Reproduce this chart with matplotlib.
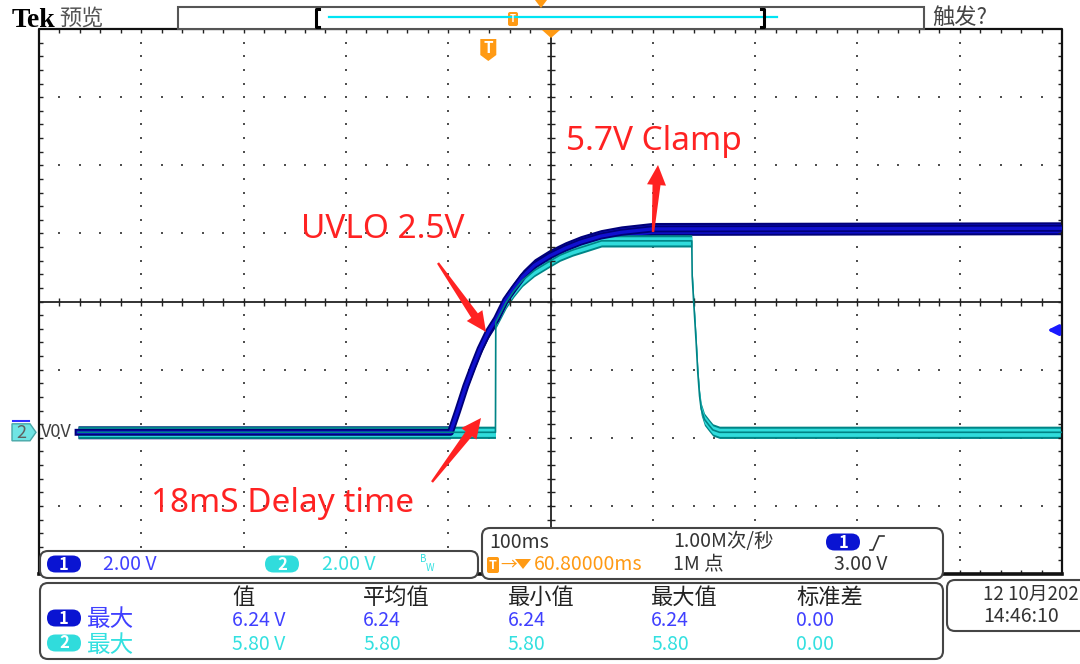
import matplotlib
matplotlib.use("Agg")
import matplotlib.pyplot as plt
from matplotlib.patches import FancyBboxPatch, Polygon, Rectangle
import numpy as np

plt.rcParams['font.family'] = ['Noto Sans CJK SC', 'DejaVu Sans']

# waveforms: time in ms from trigger, volts
ch1_t = [-401, -37, -30, -22, -15, -8, 0, 8, 17, 25, 34, 45, 60, 75, 90, 110, 130, 160, 560.8]
ch1_v = [0.0, 0.0, 0.62, 1.36, 1.92, 2.45, 2.95, 3.33, 3.88, 4.22, 4.58, 4.90, 5.18, 5.40, 5.58, 5.76, 5.87, 5.97, 5.99]

ch2_t = [-401, 7.0, 7.3, 12, 17.5, 25, 33.4, 45, 59.8, 70, 82.3, 95, 110.6, 198.9,
         199.3, 200.6, 201.6, 203.2, 204.8, 206.5, 208.1, 211.3, 216.2, 219.5, 226, 560.8]
ch2_v = [0.0, 0.0, 3.23, 3.50, 3.82, 4.15, 4.46, 4.75, 5.02, 5.20, 5.35, 5.47, 5.62, 5.62,
         4.59, 3.91, 3.42, 2.63, 1.75, 1.07, 0.68, 0.38, 0.19, 0.07, 0.0, 0.0]

# scope settings
volts_per_div = 2.0
ms_per_div = 100.0
trig_pos_ms = 60.8
ground_div = -1.92
trig_level = 3.0

# readouts
ch_scale = ["2.00 V", "2.00 V"]
meas_cols = ["值", "平均值", "最小值", "最大值", "标准差"]
ch1_meas = ["6.24 V", "6.24", "6.24", "6.24", "0.00"]
ch2_meas = ["5.80 V", "5.80", "5.80", "5.80", "0.00"]

BLUE_DK = '#000078'
BLUE = '#1010d0'
CYAN_DK = '#008486'
CYAN = '#30dcdc'
BLUE_TXT = '#4040ff'
CYAN_TXT = '#33e0e0'
ORANGE = '#ff9a14'
RED = '#ff2222'
GRID = '#505050'

W, H = 1080, 664
fig = plt.figure(figsize=(W / 100, H / 100), dpi=100)
fig.patch.set_facecolor('white')

L, T, R, B = 39, 29, 1062, 574
ax = fig.add_axes([L / W, 1 - B / H, (R - L) / W, (B - T) / H])
x0 = trig_pos_ms - 5 * ms_per_div
ax.set_xlim(x0, trig_pos_ms + 5 * ms_per_div)
vc = -ground_div * volts_per_div
ax.set_ylim(vc - 4 * volts_per_div, vc + 4 * volts_per_div)
ax.axis('off')
tr = ax.transAxes

# graticule
ys = np.arange(1, 40) / 40
xs = np.arange(1, 50) / 50
for k in range(1, 10):
    if k != 5:
        ax.scatter(np.full_like(ys, k / 10), ys, s=1.6, marker='s', color=GRID, lw=0, transform=tr)
for k in range(1, 8):
    if k != 4:
        ax.scatter(xs, np.full_like(xs, k / 8), s=1.6, marker='s', color=GRID, lw=0, transform=tr)
ax.plot([0, 1], [0.5, 0.5], color='#222222', lw=1.3, transform=tr)
ax.plot([0.5, 0.5], [0, 1], color='#222222', lw=1.3, transform=tr)
th = 4 / (B - T)
tw = 4 / (R - L)
ax.vlines(xs, 0.5 - th, 0.5 + th, colors='#222222', lw=1.0, transform=tr)
ax.hlines(ys, 0.5 - tw, 0.5 + tw, colors='#222222', lw=1.0, transform=tr)
ax.vlines(xs, 1 - th, 1, colors='#222222', lw=1.0, transform=tr)
ax.vlines(xs, 0, th, colors='#222222', lw=1.0, transform=tr)
ax.hlines(ys, 0, tw, colors='#222222', lw=1.0, transform=tr)
ax.hlines(ys, 1 - tw, 1, colors='#222222', lw=1.0, transform=tr)
ax.plot([0, 0, 1, 1], [0, 1, 1, 0], color='#111111', lw=1.6, transform=tr, clip_on=False)
ax.plot([0, 1], [0, 0], color='#111111', lw=2.6, transform=tr, clip_on=False)

# ch1 trace
v1 = np.array(ch1_v)
ax.plot(ch1_t, ch1_v, color=BLUE_DK, lw=5.0, solid_joinstyle='round')
ax.fill_between(ch1_t, v1 - 0.19, v1 + 0.19, color=BLUE_DK, lw=0)
ax.plot(ch1_t, ch1_v, color=BLUE, lw=2.4)
ax.fill_between(ch1_t, v1 - 0.13, v1 + 0.13, color=BLUE, lw=0)

# ch2 trace
v2 = np.array(ch2_v)
ax.plot(ch2_t, ch2_v, color=CYAN_DK, lw=1.2)
ax.fill_between(ch2_t, v2 - 0.18, v2 + 0.18, color=CYAN_DK, lw=0)
ax.fill_between(ch2_t, v2 - 0.12, v2 + 0.12, color=CYAN, lw=0)

# trigger level marker on right edge
x1 = trig_pos_ms + 5 * ms_per_div
ax.annotate('', xy=(x1 - 17, trig_level), xytext=(x1 - 1, trig_level),
            arrowprops=dict(arrowstyle='-|>', color='#1a1aff', lw=2.2, mutation_scale=16),
            annotation_clip=False)

# overlay in pixel coordinates
ov = fig.add_axes([0, 0, 1, 1])
ov.set_xlim(0, W)
ov.set_ylim(H, 0)
ov.axis('off')

px_per_ms = (R - L) / (10 * ms_per_div)
trig_x = L + (0 - x0) * px_per_ms
gnd_y = (T + B) / 2 - ground_div * (B - T) / 8

# header
ov.text(12, 27, 'Tek', family='Liberation Serif', weight='bold', fontsize=20, color='black', va='baseline')
ov.text(59, 18, '预览', fontsize=16, color='#555555', va='center')
ov.add_patch(Rectangle((178, 7), 746, 22, fc='white', ec='#555555', lw=1.5))
ov.plot([329, 777], [16.5, 16.5], color='#00e4f4', lw=1.6)
for bx, sgn in [(316, 1), (764, -1)]:
    ov.plot([bx + 3 * sgn, bx, bx, bx + 3 * sgn], [9, 9, 27, 27], color='black', lw=2.2)
ov.add_patch(FancyBboxPatch((508, 12), 10, 14, boxstyle='round,pad=0,rounding_size=2', fc=ORANGE, ec='none'))
ov.text(513, 19.5, 'T', color='white', fontsize=7, ha='center', va='center', weight='bold')
ov.add_patch(Polygon([(535, 0), (547, 0), (541, 8)], fc=ORANGE, ec='none'))
ov.text(932, 18, '触发?', fontsize=16, color='#444444', va='center')
ov.add_patch(Polygon([(542, 30), (560, 30), (551, 38)], fc=ORANGE, ec='none'))

# trigger position marker
ov.add_patch(Polygon([(trig_x - 8, 39), (trig_x + 8, 39), (trig_x + 8, 55), (trig_x, 61), (trig_x - 8, 55)],
                     fc=ORANGE, ec='none'))
ov.text(trig_x, 48, 'T', color='white', fontsize=11, ha='center', va='center', weight='bold')

# ground marker ch2
ov.add_patch(Polygon([(12, gnd_y - 8.5), (30, gnd_y - 8.5), (36, gnd_y), (30, gnd_y + 8.5), (12, gnd_y + 8.5)],
                     fc='#70e4e4', ec='#48a8a8', lw=1))
ov.text(21, gnd_y + 0.5, '2', color='#606060', fontsize=13, ha='center', va='center')
ov.plot([13, 29], [gnd_y - 11.5, gnd_y - 11.5], color='#3030ff', lw=1.5)
ov.text(41, gnd_y, 'V0V', color='#404040', fontsize=13, va='center')

# red annotations
def red_arrow(xa, ya, xb, yb, w0=1.2, w1=4.0, hw=9.5, hl=20.0):
    p0 = np.array([xa, ya])
    p1 = np.array([xb, yb])
    u = (p1 - p0) / np.hypot(*(p1 - p0))
    n = np.array([-u[1], u[0]])
    pb = p1 - u * hl
    pts = [p0 + n * w0, pb + n * w1, pb + n * hw, p1, pb - n * hw, pb - n * w1, p0 - n * w0]
    ov.add_patch(Polygon(pts, closed=True, fc=RED, ec='none'))

red_arrow(653, 232, 658, 165)
red_arrow(438, 263, 486, 332)
red_arrow(432, 482, 481, 418)
ann_font = dict(family='Noto Sans', fontsize=24, color=RED, va='baseline')
ov.text(566, 150, '5.7V Clamp', **ann_font)
ov.text(301, 238, 'UVLO 2.5V', **ann_font)
ov.text(151, 512, '18mS Delay time', **ann_font)

# readout boxes
def box(xa, ya, w, h):
    ov.add_patch(FancyBboxPatch((xa, ya), w, h, boxstyle='round,pad=0,rounding_size=8',
                                fc='white', ec='#454545', lw=1.5, clip_on=False))

def pill(xc, yc, label, fc):
    ov.add_patch(FancyBboxPatch((xc - 17, yc - 8.5), 34, 17, boxstyle='round,pad=0,rounding_size=8.5',
                                fc=fc, ec='none'))
    ov.text(xc, yc + 0.5, label, color='white', fontsize=12, ha='center', va='center', weight='bold')

box(40, 551, 438, 27)
box(482, 528, 461, 51)
box(40, 583, 903, 76)
box(947, 580, 150, 51)

pill(64, 564, '1', '#0a14d2')
ov.text(103, 564, ch_scale[0], color=BLUE_TXT, fontsize=14, va='center')
pill(282, 564, '2', CYAN)
ov.text(322, 564, ch_scale[1], color=CYAN_TXT, fontsize=14, va='center')
ov.text(420, 559, 'B', color=CYAN_TXT, fontsize=7, va='center')
ov.text(426, 568, 'W', color=CYAN_TXT, fontsize=7, va='center')

ov.text(489, 542, '100ms', color='#333333', fontsize=14, va='center')
ov.add_patch(FancyBboxPatch((487, 557), 12, 16, boxstyle='round,pad=0,rounding_size=2', fc=ORANGE, ec='none'))
ov.text(493, 565.5, 'T', color='white', fontsize=9, ha='center', va='center', weight='bold')
ov.text(500, 565, '→', color=ORANGE, fontsize=12, va='center')
ov.add_patch(Polygon([(515, 559), (531, 559), (523, 569)], fc=ORANGE, ec='none'))
ov.text(534, 565, '60.80000ms', color=ORANGE, fontsize=14, va='center')
ov.text(673, 542, '1.00M次/秒', color='#333333', fontsize=14, va='center')
ov.text(673, 565, '1M 点', color='#333333', fontsize=14, va='center')
pill(843, 542, '1', '#0a14d2')
ov.plot([870, 873, 879, 884], [550, 550, 536, 536], color='#333333', lw=1.2)
ov.text(834, 565, '%.2f V' % trig_level, color='#333333', fontsize=14, va='center')

col_x = [232, 363, 508, 651, 796]
for cx, name, m1, m2 in zip(col_x, meas_cols, ch1_meas, ch2_meas):
    ov.text(cx, 597, name, color='#222222', fontsize=16, va='center')
    ov.text(cx, 620, m1, color=BLUE_TXT, fontsize=14, va='center')
    ov.text(cx, 644, m2, color=CYAN_TXT, fontsize=14, va='center')
pill(64, 618, '1', '#0a14d2')
ov.text(87, 620, '最大', color=BLUE_TXT, fontsize=17, va='center')
pill(64, 643, '2', CYAN)
ov.text(87, 645, '最大', color=CYAN_TXT, fontsize=17, va='center')

ov.text(983, 594, '12 10月202', color='#333333', fontsize=13.5, va='center')
ov.text(983, 617, '14:46:10', color='#333333', fontsize=14, va='center')

fig.savefig('out.png', dpi=100, facecolor='white')
